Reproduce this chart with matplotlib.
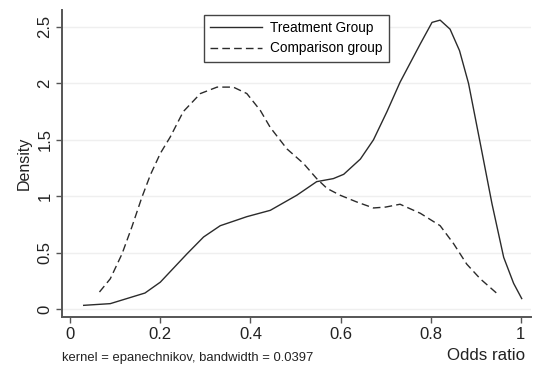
import matplotlib
matplotlib.use("Agg")
import matplotlib.pyplot as plt

# Treatment group kernel density
treat_x = [0.03, 0.089, 0.166, 0.2, 0.259, 0.296, 0.333, 0.37, 0.392, 0.444, 0.503,
           0.547, 0.584, 0.607, 0.644, 0.673, 0.703, 0.732, 0.777, 0.803, 0.821,
           0.843, 0.864, 0.884, 0.91, 0.936, 0.962, 0.984, 1.002]
treat_y = [0.035, 0.05, 0.144, 0.24, 0.49, 0.64, 0.74, 0.79, 0.82, 0.876, 1.01,
           1.13, 1.157, 1.195, 1.33, 1.5, 1.75, 2.01, 2.35, 2.54, 2.56,
           2.48, 2.29, 2.0, 1.47, 0.935, 0.46, 0.23, 0.095]

# Comparison group kernel density
comp_x = [0.065, 0.089, 0.115, 0.137, 0.159, 0.178, 0.2, 0.222, 0.251, 0.289, 0.326,
          0.362, 0.392, 0.422, 0.444, 0.481, 0.518, 0.547, 0.57, 0.599, 0.636,
          0.673, 0.7, 0.732, 0.777, 0.821, 0.851, 0.88, 0.91, 0.95]
comp_y = [0.153, 0.27, 0.49, 0.73, 0.99, 1.19, 1.38, 1.525, 1.75, 1.91, 1.967,
          1.967, 1.91, 1.76, 1.61, 1.42, 1.29, 1.157, 1.07, 1.01, 0.95,
          0.897, 0.905, 0.93, 0.85, 0.74, 0.58, 0.40, 0.27, 0.13]

x_ticks = [0, 0.2, 0.4, 0.6, 0.8, 1]
x_labels = ["0", "0.2", "0.4", "0.6", "0.8", "1"]
y_ticks = [0, 0.5, 1, 1.5, 2, 2.5]
y_labels = ["0", "0.5", "1", "1.5", "2", "2.5"]

plt.rcParams["font.family"] = ["Liberation Sans", "DejaVu Sans"]

fig = plt.figure(figsize=(5.35, 3.69), dpi=100)
ax = fig.add_axes([0.116, 0.141, 0.876, 0.832])

line_col = "#2b2b2b"
ax.plot(treat_x, treat_y, color=line_col, lw=1.0, label="Treatment Group")
ax.plot(comp_x, comp_y, color=line_col, lw=1.0, ls=(0, (5.5, 3)),
        label="Comparison group")

ax.set_xlim(-0.018, 1.022)
ax.set_ylim(-0.068, 2.65)
ax.set_xticks(x_ticks)
ax.set_xticklabels(x_labels, fontsize=12)
ax.set_yticks(y_ticks)
ax.set_yticklabels(y_labels, fontsize=12, rotation=90, va="center")

ax.grid(axis="y", color="#efefef", lw=1.0)
ax.set_axisbelow(True)

for side in ("top", "right"):
    ax.spines[side].set_visible(False)
for side in ("left", "bottom"):
    ax.spines[side].set_color("#555555")
    ax.spines[side].set_linewidth(1.4)
ax.tick_params(axis="both", direction="out", length=4, width=1.0,
               color="#555555", labelcolor="#222222", pad=3)

ax.set_ylabel("Density", fontsize=11.5, color="#222222", labelpad=4)

leg = ax.legend(loc="upper center", bbox_to_anchor=(0.5, 0.985), fontsize=9.8,
                handlelength=3.8, handletextpad=0.6, borderpad=0.45,
                labelspacing=0.5, borderaxespad=0, fancybox=False,
                framealpha=1)
leg.get_frame().set_edgecolor("#444444")
leg.get_frame().set_linewidth(1.0)

fig.text(62 / 535, 1 - 358 / 369, "kernel = epanechnikov, bandwidth = 0.0397",
         fontsize=9.4, color="#222222", va="center", ha="left")
fig.text(525 / 535, 1 - 356 / 369, "Odds ratio", fontsize=12.2,
         color="#222222", va="center", ha="right")

fig.savefig("out.png", dpi=100)
